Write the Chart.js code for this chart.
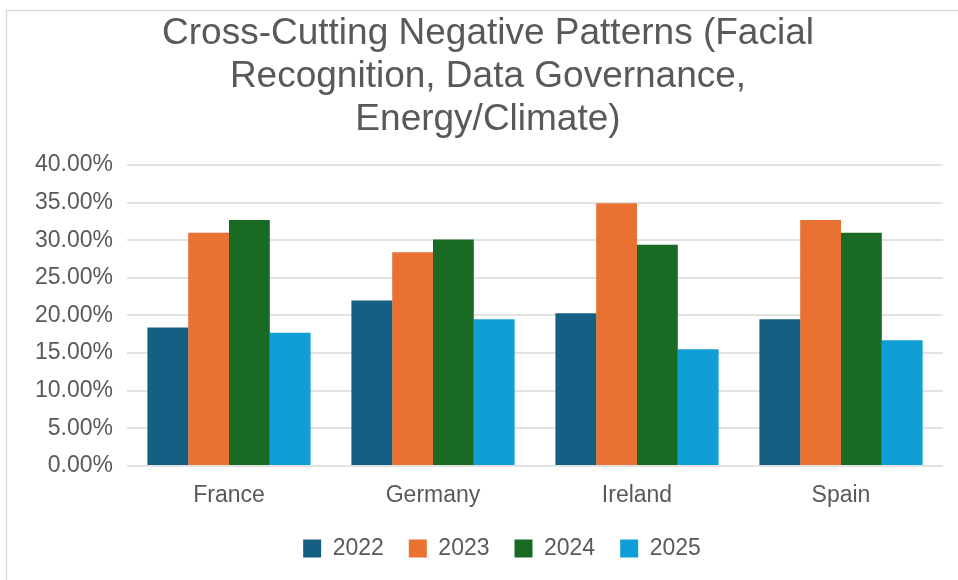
<!DOCTYPE html>
<html>
<head>
<meta charset="utf-8">
<script src="https://cdn.jsdelivr.net/npm/chart.js@4/dist/chart.umd.min.js"></script>
<style>
  html, body { margin: 0; padding: 0; background: #ffffff; }
  #wrap { position: relative; width: 958px; height: 580px; }
</style>
</head>
<body>
<div id="wrap"><canvas id="c" width="958" height="580"></canvas></div>
<script>
const countries = ['France', 'Germany', 'Ireland', 'Spain'];
const years = ['2022', '2023', '2024', '2025'];
const values2022 = [18.4, 22.0, 20.3, 19.5];
const values2023 = [31.0, 28.4, 34.9, 32.7];
const values2024 = [32.7, 30.1, 29.4, 31.0];
const values2025 = [17.7, 19.5, 15.5, 16.7];
const yearColors = ['#156082', '#E97132', '#196B24', '#0F9ED5'];
const titleLines = ['Cross-Cutting Negative Patterns (Facial', 'Recognition, Data Governance,', 'Energy/Climate)'];

const seriesValues = [values2022, values2023, values2024, values2025];
const FONT = "'Liberation Sans', Arial, sans-serif";
const TEXT = '#595959';

// white page with a thin frame along the top and left edges
const framePlugin = {
  id: 'frame',
  beforeDraw(chart) {
    const ctx = chart.ctx;
    ctx.save();
    ctx.fillStyle = '#ffffff';
    ctx.fillRect(0, 0, chart.width, chart.height);
    ctx.strokeStyle = '#dcdcdc';
    ctx.lineWidth = 1.5;
    ctx.beginPath();
    ctx.moveTo(6.5, chart.height);
    ctx.lineTo(6.5, 10.5);
    ctx.lineTo(chart.width, 10.5);
    ctx.stroke();
    ctx.restore();
  }
};

// nudge the legend row so it sits centred under the plot area
const legendShift = {
  id: 'legendShift',
  afterLayout(chart) {
    const lg = chart.legend;
    if (lg) { lg.left += 14; lg.right += 14; }
  }
};

new Chart(document.getElementById('c'), {
  type: 'bar',
  data: {
    labels: countries,
    datasets: years.map((y, i) => ({
      label: y,
      data: seriesValues[i],
      backgroundColor: yearColors[i],
      borderWidth: 0,
      barPercentage: 1,
      categoryPercentage: 0.8
    }))
  },
  options: {
    responsive: false,
    animation: false,
    layout: { padding: { left: 33, right: 15, top: 0, bottom: 10 } },
    plugins: {
      title: {
        display: true,
        text: titleLines,
        color: TEXT,
        font: { family: FONT, size: 37, weight: 'normal', lineHeight: 1.162 },
        padding: { top: 12, bottom: 24 }
      },
      legend: {
        position: 'bottom',
        labels: {
          color: TEXT,
          font: { family: FONT, size: 23 },
          boxWidth: 18,
          boxHeight: 18,
          padding: 25
        }
      },
      tooltip: { enabled: false }
    },
    scales: {
      x: {
        grid: { display: false, drawTicks: false },
        border: { display: false },
        ticks: { color: TEXT, font: { family: FONT, size: 23 }, padding: 16 },
        afterFit(scale) { scale.height = 46; }
      },
      y: {
        min: 0,
        max: 40,
        ticks: {
          stepSize: 5,
          color: TEXT,
          font: { family: FONT, size: 23 },
          padding: 14,
          callback: v => v.toFixed(2) + '%'
        },
        grid: { color: '#e2e2e2', lineWidth: 2, drawTicks: false },
        border: { display: false },
        afterFit(scale) { scale.width = 94; }
      }
    }
  },
  plugins: [framePlugin, legendShift]
});
</script>
</body>
</html>
